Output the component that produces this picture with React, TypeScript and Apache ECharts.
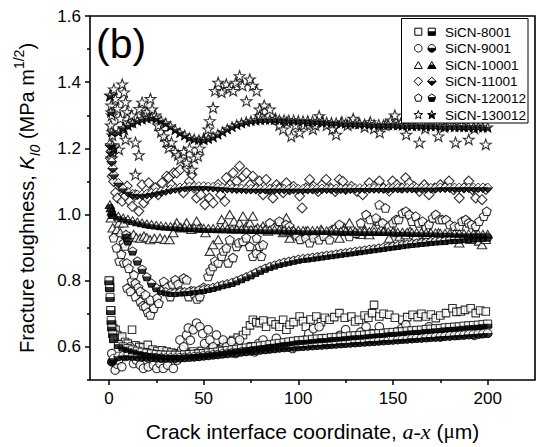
import React, { useEffect, useRef } from "react";
import * as echarts from "echarts";

const FONT = '"Liberation Sans", Arial, sans-serif';
const SERIF = '"Liberation Serif", "Times New Roman", serif';

const SAMPLE_NAMES = ["SiCN-8001", "SiCN-9001", "SiCN-10001", "SiCN-11001", "SiCN-120012", "SiCN-130012"];

const X_MAJOR_TICKS = [0, 50, 100, 150, 200];
const X_MINOR_TICKS = [25, 75, 125, 175];
const Y_MAJOR_TICKS = [0.6, 0.8, 1.0, 1.2, 1.4, 1.6];
const Y_MINOR_TICKS = [0.5, 0.7, 0.9, 1.1, 1.3, 1.5];

// Measured K_I0 values, [a-x (um), K_I0 (MPa m^1/2)]
const RAW_8001: [number, number][] = [
  [0.5, 0.8], [0.7, 0.78], [1.2, 0.71], [1.7, 0.667], [2.5, 0.655], [3.5, 0.652], [4.4, 0.636], [5.5, 0.625], [7, 0.631], [8.5, 0.615],
  [10, 0.61], [12.2, 0.652], [14, 0.605], [16, 0.6], [18, 0.598], [20.5, 0.606], [23, 0.592], [25.5, 0.588], [28, 0.59], [30.5, 0.586],
  [33, 0.583], [35.5, 0.58], [37.5, 0.581], [40, 0.584], [42, 0.578], [44.5, 0.586], [47, 0.58], [49, 0.588], [51.6, 0.591], [54, 0.585],
  [56.5, 0.596], [58.5, 0.593], [60.3, 0.601], [62.5, 0.61], [64, 0.605], [65.6, 0.621], [68, 0.628], [70.8, 0.636], [72.5, 0.648], [74.5, 0.665],
  [76, 0.682], [77.8, 0.675], [79.6, 0.672], [81.5, 0.68], [83, 0.661], [85.8, 0.677], [88, 0.668], [90, 0.661], [92, 0.682], [93.7, 0.652],
  [95.4, 0.667], [97.5, 0.675], [100.7, 0.692], [102.5, 0.678], [104, 0.661], [106.5, 0.683], [109.5, 0.692], [112, 0.675], [114, 0.688], [116.5, 0.682],
  [119, 0.69], [121.7, 0.702], [124.5, 0.688], [128, 0.692], [130, 0.677], [132, 0.682], [135, 0.695], [137, 0.688], [139, 0.702], [140, 0.727],
  [142.8, 0.692], [145, 0.7], [148, 0.697], [151, 0.688], [155, 0.682], [157.5, 0.69], [160.3, 0.697], [163, 0.69], [165, 0.7], [167.4, 0.692],
  [170, 0.698], [172.6, 0.687], [175, 0.695], [178, 0.702], [181.4, 0.717], [183.5, 0.706], [185.8, 0.707], [188, 0.712], [191, 0.717], [193.7, 0.702],
  [196, 0.71], [199, 0.707],
];

const RAW_9001: [number, number][] = [
  [1.5, 0.58], [2.5, 0.555], [3.3, 0.53], [4.2, 0.548], [5, 0.56], [6.8, 0.54], [8.6, 0.571], [9.5, 0.576], [11.2, 0.6], [13, 0.55],
  [14.5, 0.56], [16.5, 0.545], [18.2, 0.535], [20.8, 0.54], [23.5, 0.545], [25.3, 0.535], [27, 0.55], [28.7, 0.535], [31, 0.545], [34, 0.535],
  [36, 0.56], [37.5, 0.621], [38.4, 0.591], [39.5, 0.6], [41, 0.636], [41.9, 0.657], [43, 0.62], [44.5, 0.652], [46.3, 0.672], [48, 0.661],
  [49.5, 0.64], [50.5, 0.61], [52.4, 0.652], [53.3, 0.621], [55, 0.6], [56.8, 0.636], [58.5, 0.59], [60.3, 0.621], [62, 0.6], [64.7, 0.616],
  [67, 0.58], [69, 0.621], [71.5, 0.59], [74.4, 0.601], [77, 0.585], [79, 0.61], [81.4, 0.621], [84, 0.595], [86, 0.605], [88.4, 0.626],
  [91, 0.6], [94, 0.61], [97, 0.595], [100, 0.615], [103, 0.62], [105.5, 0.64], [108, 0.655], [111, 0.661], [113, 0.625], [116, 0.61],
  [119, 0.62], [122, 0.635], [125, 0.652], [128, 0.62], [131, 0.63], [133, 0.645], [135.8, 0.661], [139, 0.64], [142.8, 0.661], [146, 0.635],
  [149, 0.63], [152, 0.645], [154.5, 0.655], [156.8, 0.667], [159, 0.64], [162, 0.63], [165, 0.645], [169, 0.661], [172, 0.64], [175, 0.63],
  [178, 0.65], [181, 0.64], [184, 0.635], [187, 0.645], [190, 0.646], [193, 0.635], [196, 0.64], [199, 0.655],
];

const RAW_10001: [number, number][] = [
  [1, 0.99], [2, 0.96], [3.5, 0.945], [4.2, 0.955], [5.3, 0.975], [6, 0.945], [7.7, 0.975], [9, 0.94], [11, 0.934], [13, 0.94],
  [14.5, 0.93], [16.5, 0.929], [18.5, 0.935], [20, 0.93], [21.7, 0.924], [24, 0.928], [27, 0.929], [29.5, 0.925], [32, 0.924], [34, 0.945],
  [35.8, 0.975], [38, 0.96], [41, 0.975], [43.5, 0.955], [46.3, 0.98], [48.5, 0.96], [51, 0.945], [53.3, 0.889], [55, 0.909], [57.7, 0.924],
  [59.5, 0.985], [61.5, 0.97], [63.8, 1.0], [66, 0.98], [69, 0.975], [70.8, 0.995], [72.5, 0.965], [74.4, 0.975], [76, 0.995], [78.5, 0.96],
  [81.4, 0.965], [84, 0.95], [87, 0.96], [90, 0.975], [92, 0.945], [93.7, 0.99], [95.5, 0.929], [98, 0.945], [101, 0.935], [104, 0.95],
  [106.5, 0.94], [109.5, 0.939], [112, 0.955], [115, 0.94], [118, 0.95], [121.7, 0.929], [124.5, 0.96], [127, 0.975], [130, 0.945], [133, 0.94],
  [135, 0.955], [137.5, 0.939], [140, 0.96], [142.8, 0.98], [145, 0.95], [148, 0.929], [151, 0.945], [153.5, 0.935], [156.7, 0.939], [159, 0.95],
  [162, 0.935], [165.6, 0.924], [168, 0.94], [171, 0.935], [174, 0.945], [177, 0.93], [180, 0.935], [183, 0.925], [185, 0.914], [188, 0.93],
  [191, 0.925], [193.7, 0.939], [195.5, 0.92], [197, 0.909], [199, 0.925],
];

const RAW_11001: [number, number][] = [
  [0.8, 1.17], [1.7, 1.116], [2.5, 1.1], [3.5, 1.066], [4.5, 1.05], [5.3, 1.086], [7, 1.04], [8.7, 1.056], [9.6, 1.086], [11, 1.04],
  [12.3, 1.025], [14, 1.06], [15.8, 1.01], [17.5, 1.09], [18.4, 1.035], [20, 1.05], [21, 1.096], [22.5, 1.07], [24.5, 1.081], [26, 1.06],
  [28, 1.096], [30.5, 1.116], [31.6, 1.111], [33, 1.09], [34.2, 1.126], [35.8, 1.126], [37.7, 1.136], [39.3, 1.066], [41.2, 1.141], [42.5, 1.1],
  [43.8, 1.121], [45, 1.08], [46.3, 1.05], [48.5, 1.06], [50.7, 1.03], [53, 1.05], [55, 1.035], [57.7, 1.091], [59, 1.06], [61.2, 1.04],
  [62, 1.111], [64, 1.09], [65.6, 1.126], [67.5, 1.1], [69, 1.146], [70.8, 1.115], [72.6, 1.126], [74.5, 1.09], [76, 1.116], [78, 1.08],
  [79.6, 1.101], [81.4, 1.06], [83, 1.106], [84.8, 1.075], [86.6, 1.05], [88.5, 1.09], [90, 1.08], [92, 1.066], [93.7, 1.096], [95.5, 1.075],
  [97.5, 1.085], [100.7, 1.056], [102, 1.02], [104, 1.08], [106, 1.106], [108, 1.085], [110.5, 1.07], [112.5, 1.09], [114.7, 1.106], [117, 1.08],
  [119.5, 1.07], [121.7, 1.106], [123.5, 1.1], [125, 1.076], [128, 1.085], [131, 1.07], [134, 1.06], [137.5, 1.096], [140, 1.085], [142.8, 1.101],
  [145, 1.08], [148, 1.071], [149.8, 1.101], [152, 1.09], [154.5, 1.08], [156.7, 1.111], [158.6, 1.096], [161, 1.085], [164, 1.07], [166.5, 1.09],
  [169, 1.06], [172, 1.08], [175, 1.09], [178, 1.086], [179.6, 1.101], [182, 1.075], [185, 1.05], [187.5, 1.08], [190, 1.101], [192, 1.075],
  [193.7, 1.05], [197, 1.045], [199, 1.076],
];

const RAW_120012: [number, number][] = [
  [2.5, 0.93], [4, 0.9], [5.5, 0.86], [6.5, 0.88], [7.7, 0.914], [8.5, 0.905], [7.9, 0.854], [9.5, 0.854], [10.5, 0.838], [9.6, 0.778],
  [11.4, 0.768], [12, 0.8], [13.2, 0.818], [14, 0.793], [14, 0.752], [15.5, 0.78], [16.6, 0.737], [16.6, 0.768], [18, 0.725], [19.3, 0.722],
  [19.3, 0.758], [20.5, 0.705], [21.9, 0.697], [21.9, 0.742], [23.7, 0.717], [25.4, 0.748], [26.3, 0.732], [27.5, 0.775], [29, 0.798], [30.5, 0.78],
  [32.4, 0.752], [33.5, 0.79], [35, 0.803], [36.5, 0.79], [37.5, 0.77], [39.5, 0.808], [41, 0.803], [42.1, 0.752], [43.5, 0.77], [45, 0.76],
  [46.5, 0.745], [48, 0.752], [50, 0.78], [52.4, 0.813], [53.5, 0.83], [55, 0.843], [56, 0.86], [57.7, 0.854], [59.5, 0.874], [60.5, 0.89],
  [62, 0.899], [63, 0.854], [63.8, 0.924], [65.5, 0.87], [67.4, 0.904], [68.5, 0.915], [70.8, 0.919], [72.5, 0.93], [74.4, 0.904], [76, 0.874],
  [77.9, 0.884], [78, 0.929], [79.6, 0.904], [80.5, 0.874], [81.4, 0.909], [83, 0.955], [85, 0.975], [87.5, 0.96], [90, 0.98], [92, 0.949],
  [93.5, 0.97], [95.4, 0.965], [97, 0.95], [99, 0.939], [101, 0.925], [104, 0.929], [106, 0.915], [108, 0.93], [111, 0.924], [113.5, 0.935],
  [116.5, 0.924], [118, 0.955], [120, 0.96], [121.7, 0.97], [124, 0.95], [127, 0.934], [130.5, 0.944], [133, 0.975], [135.8, 1.0], [138, 0.985],
  [141, 0.99], [142.8, 1.03], [144.5, 0.975], [146, 1.02], [148, 0.965], [150, 0.975], [151.6, 0.985], [153, 0.985], [155, 1.005], [156.8, 1.01],
  [158.6, 1.0], [160, 0.98], [162, 0.995], [163.5, 0.975], [165.6, 0.98], [167.5, 0.96], [169, 0.97], [171, 0.99], [172.6, 1.0], [174.5, 0.985],
  [176, 0.985], [178, 0.985], [180, 0.97], [182.5, 0.965], [185, 0.965], [186.5, 0.98], [188.4, 0.985], [190, 0.975], [191.5, 0.97], [193.7, 0.965],
  [195.5, 0.98], [198, 0.995], [199.5, 1.01],
];

const RAW_130012: [number, number][] = [
  [0.8, 1.36], [1.2, 1.33], [1.5, 1.3], [1, 1.27], [1.8, 1.24], [1.2, 1.21], [2, 1.19], [1.5, 1.17], [2.6, 1.379], [3.5, 1.35],
  [4.5, 1.32], [5.3, 1.197], [6, 1.29], [7, 1.394], [8, 1.37], [8, 1.258], [8.8, 1.34], [8.8, 1.227], [9.6, 1.31], [11, 1.28],
  [12, 1.3], [14, 1.218], [14, 1.121], [15.8, 1.18], [16, 1.32], [17.5, 1.339], [19, 1.3], [20, 1.31], [21.9, 1.35], [22.8, 1.318],
  [24.5, 1.3], [26, 1.27], [27.5, 1.25], [29, 1.237], [30.5, 1.22], [31.6, 1.202], [33, 1.218], [35, 1.19], [36.5, 1.18], [37.7, 1.167],
  [39.5, 1.19], [41, 1.157], [42.5, 1.2], [43.8, 1.136], [45, 1.17], [47, 1.177], [48, 1.2], [50, 1.23], [52.4, 1.258], [53.3, 1.283],
  [55, 1.323], [56, 1.374], [57.7, 1.399], [59.5, 1.37], [62, 1.394], [63.5, 1.38], [65.6, 1.374], [67, 1.399], [69, 1.419], [70.5, 1.39],
  [72.6, 1.343], [74.4, 1.409], [76, 1.39], [78, 1.374], [79.6, 1.318], [79.6, 1.298], [82, 1.33], [85, 1.318], [88, 1.29], [90, 1.27],
  [92, 1.258], [94, 1.28], [96.3, 1.237], [98.5, 1.27], [100.7, 1.248], [103, 1.27], [105, 1.28], [107.7, 1.258], [109, 1.27], [111, 1.298],
  [113, 1.28], [115, 1.27], [118, 1.258], [120, 1.242], [123, 1.28], [126, 1.27], [129, 1.29], [132, 1.275], [135, 1.265], [138, 1.28],
  [140, 1.26], [143, 1.248], [146, 1.27], [149, 1.285], [151, 1.3], [154, 1.275], [157, 1.242], [160, 1.27], [164, 1.218], [167, 1.26],
  [170, 1.28], [174, 1.237], [177, 1.265], [180, 1.29], [183, 1.218], [186, 1.27], [188, 1.3], [190, 1.227], [193, 1.26], [196, 1.28],
  [199, 1.212],
];

// Fitted curves: a shared coordinate grid plus a steep starting segment for each sample
const FIT_X = [
  0, 2.5, 5, 7.5, 10, 12.5, 15, 17.5, 20, 22.5,
  25, 27.5, 30, 32.5, 35, 37.5, 40, 42.5, 45, 47.5,
  50, 52.5, 55, 57.5, 60, 62.5, 65, 67.5, 70, 72.5,
  75, 77.5, 80, 82.5, 85, 87.5, 90, 92.5, 95, 97.5,
  100, 102.5, 105, 107.5, 110, 112.5, 115, 117.5, 120, 122.5,
  125, 127.5, 130, 132.5, 135, 137.5, 140, 142.5, 145, 147.5,
  150, 152.5, 155, 157.5, 160, 162.5, 165, 167.5, 170, 172.5,
  175, 177.5, 180, 182.5, 185, 187.5, 190, 192.5, 195, 197.5,
  200,
];

const FIT_8001_HEAD: [number, number][] = [[0.3, 0.78], [0.6, 0.75], [0.9, 0.71], [1.2, 0.68], [1.5, 0.66], [2, 0.64]];
const FIT_8001: (number | null)[] = [
  0.8, 0.625, 0.607, 0.6, 0.595, 0.591, 0.587, 0.584, 0.581, 0.579,
  0.577, 0.576, 0.575, 0.575, 0.575, 0.575, 0.576, 0.577, 0.578, 0.579,
  0.58, 0.582, 0.583, 0.585, 0.587, 0.589, 0.591, 0.593, 0.595, 0.597,
  0.599, 0.601, 0.603, 0.605, 0.607, 0.609, 0.611, 0.613, 0.615, 0.617,
  0.619, 0.62, 0.621, 0.623, 0.624, 0.625, 0.626, 0.628, 0.629, 0.63,
  0.631, 0.633, 0.634, 0.635, 0.636, 0.638, 0.639, 0.64, 0.641, 0.643,
  0.644, 0.645, 0.646, 0.648, 0.649, 0.65, 0.651, 0.653, 0.654, 0.655,
  0.656, 0.658, 0.659, 0.66, 0.661, 0.663, 0.664, 0.665, 0.666, 0.668,
  0.669,
];

const FIT_9001_HEAD: [number, number][] = [[1.5, 0.555], [2, 0.56]];
const FIT_9001: (number | null)[] = [
  null, 0.565, 0.571, 0.573, 0.573, 0.572, 0.571, 0.57, 0.569, 0.568,
  0.567, 0.566, 0.566, 0.566, 0.566, 0.567, 0.568, 0.569, 0.57, 0.571,
  0.573, 0.574, 0.576, 0.577, 0.579, 0.58, 0.582, 0.583, 0.585, 0.586,
  0.588, 0.589, 0.591, 0.592, 0.594, 0.595, 0.597, 0.598, 0.599, 0.6,
  0.601, 0.602, 0.603, 0.604, 0.605, 0.606, 0.607, 0.608, 0.609, 0.61,
  0.611, 0.612, 0.613, 0.614, 0.615, 0.616, 0.617, 0.618, 0.619, 0.62,
  0.621, 0.622, 0.623, 0.624, 0.625, 0.626, 0.627, 0.628, 0.629, 0.63,
  0.631, 0.632, 0.633, 0.634, 0.635, 0.636, 0.637, 0.638, 0.639, 0.64,
  0.641,
];

const FIT_10001_HEAD: [number, number][] = [[0.5, 1.03], [1, 1.02], [1.5, 1.01], [2, 1.005]];
const FIT_10001: (number | null)[] = [
  null, 1.0, 0.995, 0.99, 0.986, 0.982, 0.978, 0.975, 0.972, 0.97,
  0.968, 0.966, 0.965, 0.964, 0.963, 0.962, 0.961, 0.96, 0.96, 0.959,
  0.959, 0.958, 0.958, 0.957, 0.957, 0.957, 0.956, 0.956, 0.956, 0.955,
  0.955, 0.955, 0.955, 0.954, 0.954, 0.954, 0.954, 0.953, 0.953, 0.953,
  0.953, 0.952, 0.952, 0.952, 0.952, 0.951, 0.951, 0.951, 0.951, 0.95,
  0.95, 0.95, 0.95, 0.949, 0.949, 0.949, 0.949, 0.948, 0.948, 0.948,
  0.948, 0.947, 0.947, 0.947, 0.946, 0.946, 0.946, 0.945, 0.945, 0.945,
  0.944, 0.944, 0.944, 0.943, 0.943, 0.943, 0.942, 0.942, 0.942, 0.941,
  0.941,
];

const FIT_11001_HEAD: [number, number][] = [[0.5, 1.21], [1, 1.19], [1.5, 1.16], [2, 1.14]];
const FIT_11001: (number | null)[] = [
  null, 1.12, 1.095, 1.078, 1.068, 1.062, 1.06, 1.06, 1.062, 1.064,
  1.067, 1.07, 1.073, 1.076, 1.079, 1.081, 1.083, 1.084, 1.085, 1.085,
  1.085, 1.084, 1.083, 1.082, 1.081, 1.08, 1.079, 1.078, 1.078, 1.077,
  1.077, 1.077, 1.077, 1.077, 1.077, 1.077, 1.077, 1.077, 1.077, 1.077,
  1.077, 1.077, 1.077, 1.077, 1.078, 1.078, 1.078, 1.078, 1.078, 1.078,
  1.078, 1.078, 1.079, 1.079, 1.079, 1.079, 1.079, 1.079, 1.079, 1.079,
  1.08, 1.08, 1.08, 1.08, 1.08, 1.08, 1.08, 1.08, 1.08, 1.08,
  1.081, 1.081, 1.081, 1.081, 1.081, 1.081, 1.081, 1.081, 1.081, 1.081,
  1.081,
];

const FIT_120012_HEAD: [number, number][] = [[9, 0.94], [9.5, 0.93]];
const FIT_120012: (number | null)[] = [
  null, null, null, null, 0.92, 0.89, 0.86, 0.835, 0.812, 0.793,
  0.779, 0.771, 0.767, 0.765, 0.765, 0.766, 0.767, 0.768, 0.77, 0.772,
  0.774, 0.777, 0.78, 0.784, 0.788, 0.791, 0.795, 0.8, 0.806, 0.812,
  0.818, 0.825, 0.832, 0.838, 0.843, 0.848, 0.852, 0.856, 0.859, 0.862,
  0.865, 0.867, 0.869, 0.871, 0.873, 0.875, 0.877, 0.879, 0.881, 0.883,
  0.885, 0.887, 0.889, 0.891, 0.893, 0.895, 0.897, 0.899, 0.901, 0.903,
  0.905, 0.907, 0.909, 0.911, 0.913, 0.914, 0.916, 0.917, 0.919, 0.92,
  0.921, 0.922, 0.924, 0.925, 0.926, 0.927, 0.928, 0.929, 0.93, 0.931,
  0.932,
];

const FIT_130012_HEAD: [number, number][] = [[0.5, 1.36], [1, 1.31], [1.5, 1.25], [2, 1.21]];
const FIT_130012: (number | null)[] = [
  null, 1.2, 1.25, 1.262, 1.27, 1.277, 1.284, 1.289, 1.292, 1.293,
  1.291, 1.285, 1.277, 1.267, 1.257, 1.248, 1.24, 1.233, 1.229, 1.227,
  1.227, 1.23, 1.235, 1.243, 1.251, 1.259, 1.266, 1.272, 1.277, 1.281,
  1.284, 1.286, 1.287, 1.288, 1.288, 1.288, 1.287, 1.287, 1.286, 1.286,
  1.285, 1.284, 1.284, 1.283, 1.282, 1.281, 1.28, 1.279, 1.278, 1.277,
  1.276, 1.276, 1.275, 1.275, 1.274, 1.274, 1.273, 1.273, 1.272, 1.272,
  1.271, 1.271, 1.27, 1.27, 1.27, 1.269, 1.269, 1.268, 1.268, 1.268,
  1.267, 1.267, 1.267, 1.266, 1.266, 1.266, 1.265, 1.265, 1.265, 1.264,
  1.264,
];

const RAW_SETS = [RAW_8001, RAW_9001, RAW_10001, RAW_11001, RAW_120012, RAW_130012];
const FIT_HEADS = [FIT_8001_HEAD, FIT_9001_HEAD, FIT_10001_HEAD, FIT_11001_HEAD, FIT_120012_HEAD, FIT_130012_HEAD];
const FIT_SETS = [FIT_8001, FIT_9001, FIT_10001, FIT_11001, FIT_120012, FIT_130012];

// ---- marker outlines, drawn in a 20 x 20 box ----
type Pt = [number, number];

const circlePoints = (): Pt[] => {
  const pts: Pt[] = [];
  for (let k = 0; k < 28; k++) {
    const a = (k / 28) * Math.PI * 2;
    pts.push([10 + 10 * Math.cos(a), 10 + 10 * Math.sin(a)]);
  }
  return pts;
};

const SHAPES: Pt[][] = [
  [[0, 0], [20, 0], [20, 20], [0, 20]],
  circlePoints(),
  [[10, 0], [20, 17.3], [0, 17.3]],
  [[10, 0], [20, 10], [10, 20], [0, 10]],
  [[10, 0], [19.51, 6.91], [15.88, 18.09], [4.12, 18.09], [0.49, 6.91]],
  [[10, 0], [12.35, 6.76], [19.51, 6.91], [13.8, 11.24], [15.88, 18.09], [10, 14], [4.12, 18.09], [6.2, 11.24], [0.49, 6.91], [7.65, 6.76]],
];

const RAW_SIZE = [7.5, 8.5, 9.5, 10, 9.5, 11.5];
const FIT_SIZE = [8, 8.5, 9, 9.5, 9, 10.5];
const LEGEND_SIZE = [7, 7.5, 8, 8.5, 8, 9];

function bbox(p: Pt[]) {
  let x0 = Infinity, x1 = -Infinity, y0 = Infinity, y1 = -Infinity;
  for (const [x, y] of p) {
    x0 = Math.min(x0, x); x1 = Math.max(x1, x);
    y0 = Math.min(y0, y); y1 = Math.max(y1, y);
  }
  return { x0, x1, y0, y1 };
}

// keeps the part of a polygon below the horizontal line y = yc
function lowerHalf(p: Pt[], yc: number): Pt[] {
  const out: Pt[] = [];
  for (let i = 0; i < p.length; i++) {
    const a = p[i];
    const b = p[(i + 1) % p.length];
    const ain = a[1] >= yc;
    const bin = b[1] >= yc;
    if (ain) out.push(a);
    if (ain !== bin) {
      const t = (yc - a[1]) / (b[1] - a[1]);
      out.push([a[0] + t * (b[0] - a[0]), yc]);
    }
  }
  return out;
}

const pathOf = (p: Pt[]) =>
  "path://" + p.map((q, i) => (i ? "L" : "M") + q[0].toFixed(2) + " " + q[1].toFixed(2)).join("") + "Z";

function marker(pts: Pt[], s: number) {
  const b = bbox(pts);
  const k = s / 20;
  const cx = (b.x0 + b.x1) / 2;
  const yc = (b.y0 + b.y1) / 2;
  const half = lowerHalf(pts, yc);
  const hb = bbox(half);
  return {
    full: pathOf(pts),
    fullSize: [(b.x1 - b.x0) * k, (b.y1 - b.y0) * k],
    half: pathOf(half),
    halfSize: [(hb.x1 - hb.x0) * k, (hb.y1 - hb.y0) * k],
    halfOffset: [((hb.x0 + hb.x1) / 2 - cx) * k, ((hb.y0 + hb.y1) / 2 - yc) * k],
  };
}

function placed(pts: Pt[], ref: Pt[], cx: number, cy: number, s: number): number[][] {
  const b = bbox(ref);
  const k = s / 20;
  const mx = (b.x0 + b.x1) / 2;
  const my = (b.y0 + b.y1) / 2;
  return pts.map(([x, y]) => [cx + (x - mx) * k, cy + (y - my) * k]);
}

function buildOption() {
  const series: any[] = [];
  // open symbols: measured values
  RAW_SETS.forEach((data, i) => {
    const m = marker(SHAPES[i], RAW_SIZE[i]);
    series.push({
      name: SAMPLE_NAMES[i],
      type: "scatter",
      data,
      symbol: m.full,
      symbolSize: m.fullSize,
      itemStyle: { color: "#fff", borderColor: "#000", borderWidth: 1.1 },
      z: 2,
      silent: true,
    });
  });
  // half-filled symbols: fitted curves
  FIT_SETS.forEach((vals, i) => {
    const data: [number, number][] = [...FIT_HEADS[i]];
    FIT_X.forEach((x, j) => {
      const v = vals[j];
      if (v != null) data.push([x, v]);
    });
    const m = marker(SHAPES[i], FIT_SIZE[i]);
    series.push({
      name: SAMPLE_NAMES[i] + " fit",
      type: "scatter",
      data,
      symbol: m.full,
      symbolSize: m.fullSize,
      itemStyle: { color: "#fff", borderColor: "#000", borderWidth: 1 },
      z: 3,
      silent: true,
    });
    series.push({
      name: SAMPLE_NAMES[i] + " fit base",
      type: "scatter",
      data,
      symbol: m.half,
      symbolSize: m.halfSize,
      symbolOffset: m.halfOffset,
      itemStyle: { color: "#000", borderColor: "#000", borderWidth: 0.8 },
      z: 4,
      silent: true,
    });
  });

  // panel tag and legend box drawn as graphics
  const graphic: any[] = [
    {
      type: "text",
      left: 96,
      top: 23,
      z: 100,
      style: { text: "(b)", fontSize: 41, fontFamily: FONT, fill: "#000" },
    },
    {
      type: "rect",
      z: 100,
      shape: { x: 401.5, y: 18.5, width: 126.5, height: 104.5 },
      style: { fill: "#fff", stroke: "#000", lineWidth: 1 },
    },
  ];
  const rowY = [31.7, 48.3, 65, 81.3, 97.6, 114.6];
  SAMPLE_NAMES.forEach((name, i) => {
    const y = rowY[i];
    const s = LEGEND_SIZE[i];
    const pts = SHAPES[i];
    const b = bbox(pts);
    const half = lowerHalf(pts, (b.y0 + b.y1) / 2);
    graphic.push({
      type: "polygon",
      z: 101,
      shape: { points: placed(pts, pts, 418.3, y, s) },
      style: { fill: "#fff", stroke: "#000", lineWidth: 1 },
    });
    graphic.push({
      type: "polygon",
      z: 101,
      shape: { points: placed(pts, pts, 431.8, y, s) },
      style: { fill: "#fff", stroke: "#000", lineWidth: 1 },
    });
    graphic.push({
      type: "polygon",
      z: 102,
      shape: { points: placed(half, pts, 431.8, y, s) },
      style: { fill: "#000", stroke: "#000", lineWidth: 0.8 },
    });
    graphic.push({
      type: "text",
      z: 101,
      x: 445,
      y: y + 0.5,
      style: { text: name, fontSize: 13.5, fontFamily: FONT, fill: "#000", verticalAlign: "middle", align: "left" },
    });
  });

  const axisLabelStyle = { color: "#000", fontSize: 17, fontFamily: FONT };

  return {
    animation: false,
    backgroundColor: "#fff",
    grid: {
      left: 90,
      right: 1,
      top: 16,
      bottom: 67,
      show: true,
      borderColor: "#000",
      borderWidth: 1.6,
      backgroundColor: "transparent",
    },
    xAxis: [
      {
        type: "value",
        min: -10,
        max: 225,
        position: "bottom",
        axisLine: { show: false, onZero: false },
        axisTick: { show: true, inside: false, length: 5, customValues: X_MAJOR_TICKS, lineStyle: { color: "#000", width: 1.5 } },
        axisLabel: { show: true, customValues: X_MAJOR_TICKS, margin: 10, ...axisLabelStyle },
        splitLine: { show: false },
        name: "{n|Crack interface coordinate, }{it|a-x}{n| (}{mu|\u03bc}{n|m)}",
        nameLocation: "middle",
        nameGap: 40,
        nameTextStyle: {
          rich: {
            n: { fontSize: 21, fontFamily: FONT, color: "#000" },
            it: { fontSize: 22, fontFamily: SERIF, fontStyle: "italic", color: "#000" },
            mu: { fontSize: 21, fontFamily: SERIF, color: "#000" },
          },
        },
      },
      {
        type: "value",
        min: -10,
        max: 225,
        position: "bottom",
        axisLine: { show: false, onZero: false },
        axisTick: { show: true, inside: false, length: 3, customValues: X_MINOR_TICKS, lineStyle: { color: "#000", width: 1.5 } },
        axisLabel: { show: false },
        splitLine: { show: false },
      },
    ],
    yAxis: [
      {
        type: "value",
        min: 0.5,
        max: 1.6,
        position: "left",
        axisLine: { show: false, onZero: false },
        axisTick: { show: true, inside: false, length: 5, customValues: Y_MAJOR_TICKS, lineStyle: { color: "#000", width: 1.5 } },
        axisLabel: {
          show: true,
          customValues: Y_MAJOR_TICKS,
          margin: 9,
          formatter: (v: number) => v.toFixed(1),
          ...axisLabelStyle,
        },
        splitLine: { show: false },
        name: "{n|Fracture toughness, }{it|K}{sub|I0}{n| (MPa m}{sup|1/2}{n|)}",
        nameLocation: "middle",
        nameRotate: 90,
        nameGap: 48,
        nameTextStyle: {
          rich: {
            n: { fontSize: 20, fontFamily: FONT, color: "#000", lineHeight: 30, verticalAlign: "middle" },
            it: { fontSize: 20, fontFamily: FONT, fontStyle: "italic", color: "#000", lineHeight: 30, verticalAlign: "middle" },
            sub: { fontSize: 14, fontFamily: FONT, fontStyle: "italic", color: "#000", lineHeight: 14, verticalAlign: "bottom" },
            sup: { fontSize: 14, fontFamily: FONT, color: "#000", lineHeight: 14, verticalAlign: "top" },
          },
        },
      },
      {
        type: "value",
        min: 0.5,
        max: 1.6,
        position: "left",
        axisLine: { show: false, onZero: false },
        axisTick: { show: true, inside: false, length: 3, customValues: Y_MINOR_TICKS, lineStyle: { color: "#000", width: 1.5 } },
        axisLabel: { show: false },
        splitLine: { show: false },
      },
    ],
    series,
    graphic,
  };
}

export default function App() {
  const ref = useRef<HTMLDivElement>(null);
  useEffect(() => {
    if (!ref.current) return;
    const chart = echarts.init(ref.current, undefined, { renderer: "svg" });
    chart.setOption(buildOption() as any);
    return () => chart.dispose();
  }, []);
  return (
    <div
      ref={ref}
      style={{ position: "fixed", left: 0, top: 0, width: 536, height: 447, background: "#fff" }}
    />
  );
}
